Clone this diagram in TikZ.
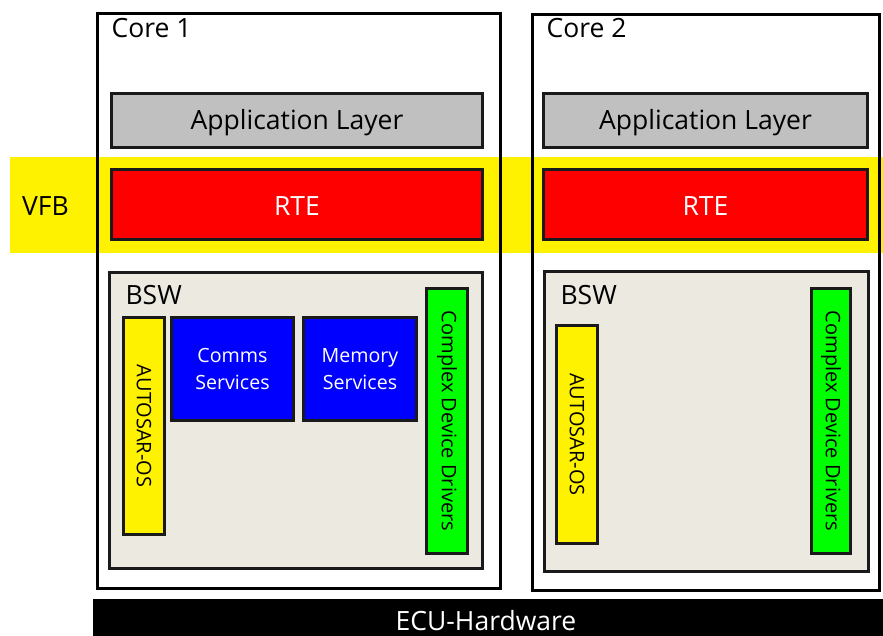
\documentclass[tikz,border=0pt]{standalone}
\usepackage{fontspec}
\setmainfont{Open Sans}
\definecolor{appgray}{HTML}{C0C0C0}
\definecolor{bswbg}{HTML}{ECE9E0}
\definecolor{edge}{HTML}{1A1A1A}
\begin{document}
\begin{tikzpicture}[x=1pt,y=-1pt,
  box/.style={draw=edge,line width=2.6pt,rectangle,inner sep=0pt,outer sep=0pt,align=center},
  corebox/.style={draw=black,line width=2.2pt,rectangle,inner sep=0pt,outer sep=0pt},
  big/.style={font=\fontsize{26.5}{30}\selectfont},
  mid/.style={font=\fontsize{19.6}{27.5}\selectfont},
  vert/.style={font=\fontsize{20}{22}\selectfont,rotate=-90}]
\useasboundingbox (0,0) rectangle (883,636);
% cores (white fill)
\fill[white] (96,12) rectangle (502,590);
\fill[white] (531,13) rectangle (881,592);
% VFB band
\fill[yellow] (10,157) rectangle (883,253);
\node[big,anchor=center] (vfb) at (45.5,206) {VFB};
% core frames
\node[corebox,minimum width=403pt,minimum height=575pt] (core1) at (299,301) {};
\node[corebox,minimum width=347pt,minimum height=576pt] (core2) at (706,302.5) {};
\node[big,anchor=base west] (c1lab) at (108,37.5) {Core 1};
\node[big,anchor=base west] (c2lab) at (543,37.5) {Core 2};
% core 1 layers
\node[box,fill=appgray,minimum width=371pt,minimum height=54pt] (app1) at (297,120.5) {};
\node[big] at ([yshift=-2pt]app1.center) {Application Layer};
\node[box,fill=red,minimum width=371pt,minimum height=70pt] (rte1) at (297,204.5) {};
\node[big,text=white] at ([yshift=-1.5pt]rte1.center) {RTE};
\node[box,fill=bswbg,minimum width=373pt,minimum height=296pt] (bsw1) at (296,420.5) {};
\node[big,anchor=base west] (bsw1lab) at (122,305) {BSW};
\node[box,fill=yellow,minimum width=41pt,minimum height=217pt] (aos1) at (144,426) {};
\node[vert] at (aos1.center) {AUTOSAR-OS};
\node[box,fill=blue,text=white,mid,minimum width=122pt,minimum height=103pt] (comms) at (232.5,369) {Comms\\Services};
\node[box,fill=blue,text=white,mid,minimum width=113pt,minimum height=103pt] (mem) at (360,369) {Memory\\Services};
\node[box,fill=green,minimum width=41pt,minimum height=265pt] (cdd1) at (447,421) {};
\node[vert] at (cdd1.center) {Complex Device Drivers};
% core 2 layers
\node[box,fill=appgray,minimum width=324pt,minimum height=54pt] (app2) at (705.5,120.5) {};
\node[big] at ([yshift=-2pt]app2.center) {Application Layer};
\node[box,fill=red,minimum width=324pt,minimum height=70pt] (rte2) at (705.5,204.5) {};
\node[big,text=white] at ([yshift=-1.5pt]rte2.center) {RTE};
\node[box,fill=bswbg,minimum width=324pt,minimum height=300pt] (bsw2) at (706.5,421.5) {};
\node[big,anchor=base west] (bsw2lab) at (557,305) {BSW};
\node[box,fill=yellow,minimum width=41pt,minimum height=218pt] (aos2) at (577,434.5) {};
\node[vert] at (aos2.center) {AUTOSAR-OS};
\node[box,fill=green,minimum width=39pt,minimum height=265pt] (cdd2) at (831,421) {};
\node[vert] at (cdd2.center) {Complex Device Drivers};
% hardware
\fill[black] (93,599) rectangle (883,636);
\node[big,text=white] (ecu) at (486,620.5) {ECU-Hardware};
\end{tikzpicture}
\end{document}
